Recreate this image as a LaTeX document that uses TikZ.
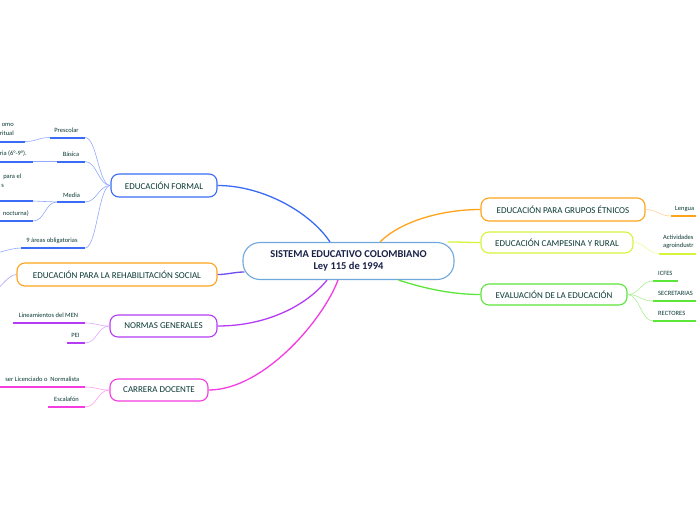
\documentclass[tikz,border=0pt]{standalone}
\usepackage{fontspec}
\setmainfont{Carlito}
\definecolor{schrift}{HTML}{0B3A35}
\definecolor{mitte}{HTML}{1A2248}
\definecolor{rand}{HTML}{6FA8DC}
\definecolor{blau}{HTML}{3A6CF5}
\definecolor{blauhell}{HTML}{93AAFF}
\definecolor{orange}{HTML}{FFA31A}
\definecolor{orangehell}{HTML}{FFD29A}
\definecolor{violett}{HTML}{6F4CF0}
\definecolor{violetthell}{HTML}{B39CFF}
\definecolor{lila}{HTML}{B43CF5}
\definecolor{lilahell}{HTML}{DDA6FF}
\definecolor{magenta}{HTML}{F53CE0}
\definecolor{magentahell}{HTML}{FF9CF0}
\definecolor{gelb}{HTML}{D4F53A}
\definecolor{gelbhell}{HTML}{EAFF9A}
\definecolor{gruen}{HTML}{5CE63A}
\definecolor{gruenhell}{HTML}{AAF095}

\begin{document}
\begin{tikzpicture}[x=1pt,y=-1pt,
	haupt/.style={draw=#1,line width=1.1pt,rounded corners=8pt,fill=white,text=schrift,
		inner sep=0pt,font=\fontsize{9}{10}\selectfont},
	ast/.style={draw=#1,line width=1.3pt},
	zweig/.style={draw=#1,line width=0.6pt},
	strich/.style={draw=#1,line width=2pt},
	klein/.style={inner sep=0pt,text=schrift,font=\fontsize{6.5}{8.5}\selectfont}]
	\useasboundingbox (0,0) rectangle (696,520);
	\fill[white] (0,0) rectangle (696,520);
	\clip (0,0) rectangle (696,520);
	%Mitte
	\node[draw=rand,line width=1.1pt,rounded corners=17pt,fill=white,minimum width=211pt,minimum height=37pt,
		text=mitte,align=center,font=\fontsize{10.5}{12.5}\selectfont\bfseries] (zentrum) at (348.5,261)
		{SISTEMA EDUCATIVO COLOMBIANO\\Ley 115 de 1994};
	%Hauptknoten links
	\node[haupt=blau,minimum width=106pt,minimum height=23pt] (formal) at (164,185.5) {EDUCACIÓN FORMAL};
	\node[haupt=orange,minimum width=200pt,minimum height=23pt] (rehab) at (117,274.5) {EDUCACIÓN PARA LA REHABILITACIÓN SOCIAL};
	\node[haupt=lila,minimum width=107pt,minimum height=22pt] (normas) at (163.5,326) {NORMAS GENERALES};
	\node[haupt=magenta,minimum width=98pt,minimum height=22pt] (carrera) at (159,390) {CARRERA DOCENTE};
	%Hauptknoten rechts
	\node[haupt=orange,minimum width=164pt,minimum height=23pt] (etnicos) at (563,209.5) {EDUCACIÓN PARA GRUPOS ÉTNICOS};
	\node[haupt=gelb,minimum width=152pt,minimum height=21pt] (campesina) at (557,242.5) {EDUCACIÓN CAMPESINA Y RURAL};
	\node[haupt=gruen,minimum width=146pt,minimum height=21pt] (eval) at (554,294.5) {EVALUACIÓN DE LA EDUCACIÓN};
	%Aeste vom Zentrum
	\draw[ast=blau] ([xshift=-18.5pt]zentrum.north) .. controls +(-20,-30) and +(45,0) .. (formal.east);
	\draw[ast=violett] ([xshift=2pt,yshift=-11pt]zentrum.west) .. controls +(-10,0) and +(10,0) .. (rehab.east);
	\draw[ast=lila] ([xshift=-21.5pt]zentrum.south) .. controls +(-20,25) and +(50,0) .. (normas.east);
	\draw[ast=magenta] ([xshift=-10.5pt]zentrum.south) .. controls +(-15,40) and +(55,0) .. (carrera.east);
	\draw[ast=orange] ([xshift=31.5pt]zentrum.north) .. controls +(20,-20) and +(-40,0) .. (etnicos.west);
	\draw[ast=gelb] ([xshift=-7pt]zentrum.north east) .. controls +(15,0) and +(-15,0) .. (campesina.west);
	\draw[ast=gruen] ([xshift=50pt]zentrum.south) .. controls +(25,8) and +(-30,0) .. (eval.west);
	%Educacion formal
	\node[klein] (presc) at (66.5,130) {Prescolar};
	\draw[strich=blau] (50,137.5) coordinate (presc-l) -- (85,137.5) coordinate (presc-r);
	\node[klein,anchor=east,align=right] (omo) at (14,129.5) {omo\\ritual};
	\draw[strich=blau] (-5,141.5) -- (25,141.5) coordinate (omo-r);
	\node[klein] (basica) at (71,154) {Básica};
	\draw[strich=blau] (57,161.5) coordinate (basica-l) -- (85,161.5) coordinate (basica-r);
	\node[klein,anchor=east] (sek) at (27,154) {ria (6°-9°).};
	\draw[strich=blau] (-5,161.5) -- (33,161.5) coordinate (sek-r);
	\node[klein] (media) at (71.5,195) {Media};
	\draw[strich=blau] (57,202) coordinate (media-l) -- (85,202) coordinate (media-r);
	\node[klein,anchor=east,align=right] (parael) at (21.5,181) {para el\\s\hspace*{17.5pt}};
	\draw[strich=blau] (-5,201) -- (33,201) coordinate (parael-r);
	\node[klein,anchor=east] (noct) at (29,213.5) {nocturna)};
	\draw[strich=blau] (-5,221) -- (33,221) coordinate (noct-r);
	\node[klein] (areas) at (52,240.5) {9 áreas obligatorias};
	\draw[strich=blau] (21,248) coordinate (areas-l) -- (85,248) coordinate (areas-r);
	\coordinate (areas-x) at (-20,256);
	\foreach \n in {presc,basica,media,areas}
		\draw[zweig=blauhell] (formal.west) .. controls +(-12,0) and +(12,0) .. (\n-r);
	\draw[zweig=blauhell] (presc-l) .. controls +(-12,0) and +(12,0) .. (omo-r);
	\draw[zweig=blauhell] (basica-l) -- (sek-r);
	\draw[zweig=blauhell] (media-l) .. controls +(-12,0) and +(12,0) .. (parael-r);
	\draw[zweig=blauhell] (media-l) .. controls +(-12,0) and +(12,0) .. (noct-r);
	\draw[zweig=blauhell] (areas-l) .. controls +(-12,0) and +(12,0) .. (areas-x);
	%Rehabilitacion
	\coordinate (rehab-x) at (-12,294);
	\draw[zweig=violetthell] (rehab.west) .. controls +(-10,0) and +(10,0) .. (rehab-x);
	%Normas generales
	\node[klein] (men) at (48.5,315.5) {Lineamientos del MEN};
	\draw[strich=lila] (13,323) -- (85,323) coordinate (men-r);
	\node[klein] (pei) at (75.5,335) {PEI};
	\draw[strich=lila] (67,343) -- (85,343) coordinate (pei-r);
	\foreach \n in {men,pei}
		\draw[zweig=lilahell] (normas.west) .. controls +(-12,0) and +(12,0) .. (\n-r);
	%Carrera docente
	\node[klein,anchor=east] (lic) at (79.5,379.5) {ser Licenciado o\ \ Normalista};
	\draw[strich=magenta] (-5,387) -- (85,387) coordinate (lic-r);
	\node[klein] (escal) at (66.5,399.5) {Escalafón};
	\draw[strich=magenta] (48,407) -- (85,407) coordinate (escal-r);
	\foreach \n in {lic,escal}
		\draw[zweig=magentahell] (carrera.west) .. controls +(-12,0) and +(12,0) .. (\n-r);
	%rechte Seite
	\node[klein,anchor=west] (lengua) at (675,209) {Lengua};
	\draw[strich=orange] (671,216) coordinate (lengua-l) -- (700,216);
	\draw[zweig=orangehell] (etnicos.east) .. controls +(12,0) and +(-12,0) .. (lengua-l);
	\node[klein,anchor=west,align=left] (akt) at (663,242) {Actividades\\agroindustr};
	\draw[strich=gelb] (659,253.5) coordinate (akt-l) -- (700,253.5);
	\draw[zweig=gelbhell] (campesina.east) .. controls +(12,0) and +(-12,0) .. (akt-l);
	\node[klein,anchor=west] (icfes) at (658,273.5) {ICFES};
	\draw[strich=gruen] (653,281) coordinate (icfes-l) -- (678,281);
	\node[klein,anchor=west] (sekr) at (658,293.5) {SECRETARIAS};
	\draw[strich=gruen] (653,301) coordinate (sekr-l) -- (700,301);
	\node[klein,anchor=west] (rekt) at (658,313.5) {RECTORES};
	\draw[strich=gruen] (653,321) coordinate (rekt-l) -- (700,321);
	\foreach \n in {icfes,sekr,rekt}
		\draw[zweig=gruenhell] (eval.east) .. controls +(12,0) and +(-12,0) .. (\n-l);
\end{tikzpicture}
\end{document}
